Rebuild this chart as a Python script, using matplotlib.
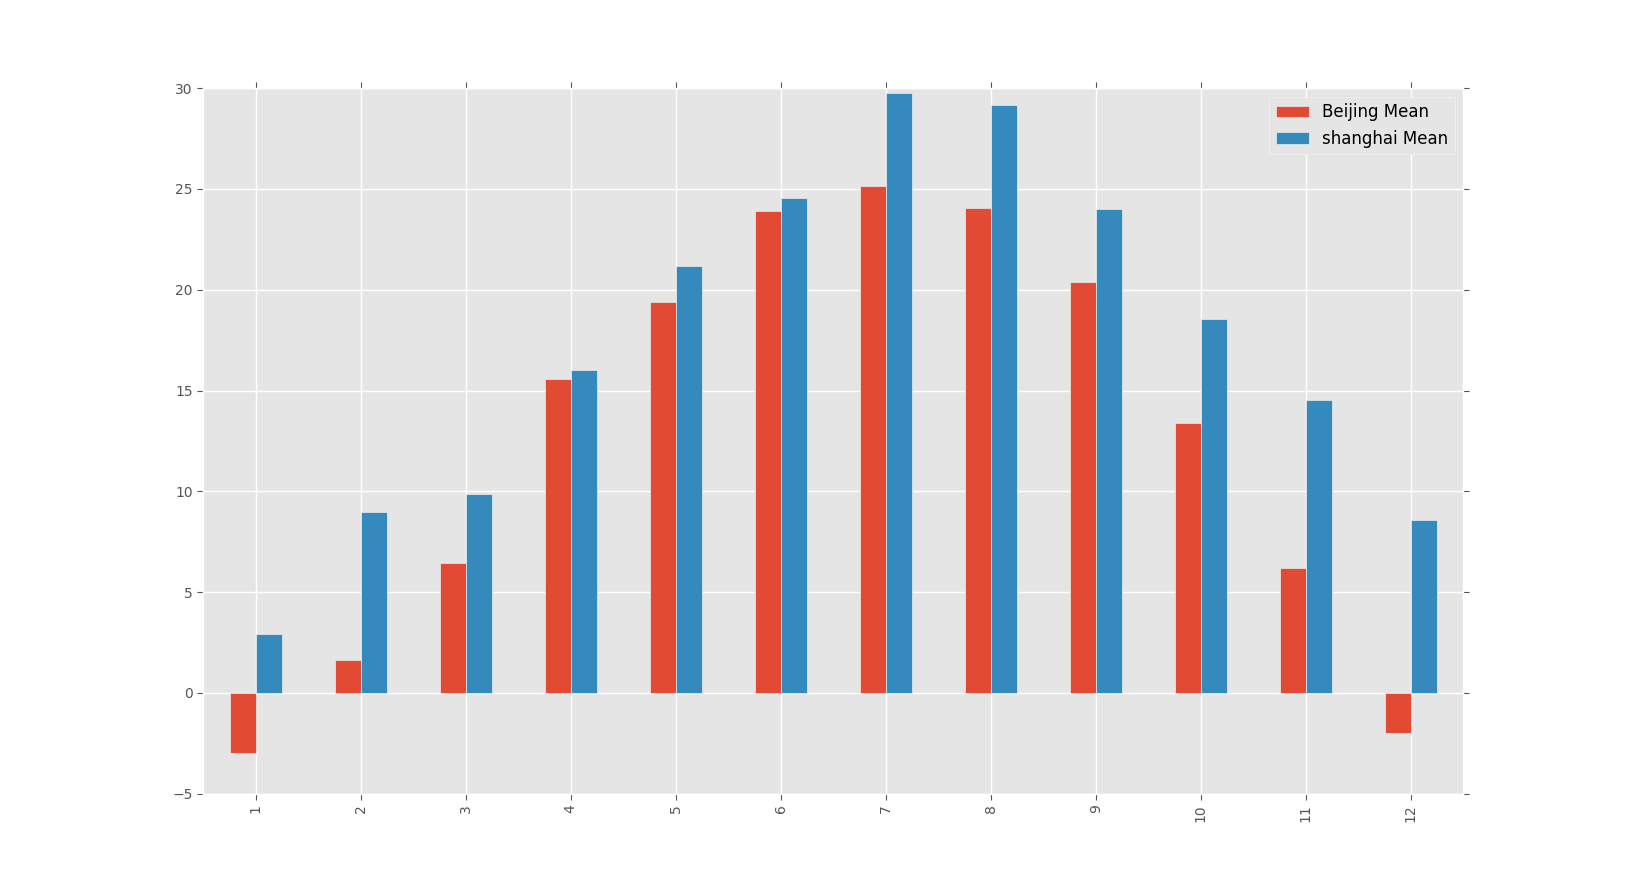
import matplotlib as mpl
mpl.use('Agg')
import matplotlib.pyplot as plt
import numpy as np
import pandas as pd

months = [1, 2, 3, 4, 5, 6, 7, 8, 9, 10, 11, 12]
beijing_mean = [-3.0, 1.65, 6.45, 15.6, 19.4, 23.9, 25.15, 24.05, 20.4, 13.4, 6.2, -2.0]
shanghai_mean = [2.95, 9.0, 9.85, 16.0, 21.2, 24.55, 29.75, 29.15, 24.0, 18.55, 14.55, 8.6]

df = pd.DataFrame({'Beijing Mean': beijing_mean, 'shanghai Mean': shanghai_mean}, index=months)

plt.style.use('ggplot')
plt.rcParams.update({
    'axes.facecolor': '#E5E5E5',
    'axes.edgecolor': 'white',
    'xtick.color': '#555555',
    'ytick.color': '#555555',
    'xtick.labelcolor': '#555555',
    'ytick.labelcolor': '#555555',
    'xtick.direction': 'out',
    'ytick.direction': 'out',
    'xtick.labelsize': 10,
    'ytick.labelsize': 10,
    'font.size': 10,
})

fig = plt.figure(figsize=(16.26, 8.82), dpi=100)
fig.subplots_adjust(left=0.125, right=0.9, top=0.9, bottom=0.1)
ax = fig.add_subplot(111)
df.plot(kind='bar', ax=ax, color=['#E24A33', '#348ABD'], edgecolor='#EEEEEE', linewidth=0.5)

ax.set_ylim(-5, 30)
ax.set_xlim(-0.5, 11.5)
ax.tick_params(axis='x', rotation=90)
ax.tick_params(top=True, right=True, length=4, width=0.8)
ax.grid(True, color='white', linewidth=1)
ax.set_axisbelow(True)

leg = ax.legend(loc='upper right', fontsize=12, facecolor='#E5E5E5', edgecolor='#F2F2F2', framealpha=1, fancybox=False)

plt.savefig('out.png', dpi=100)
